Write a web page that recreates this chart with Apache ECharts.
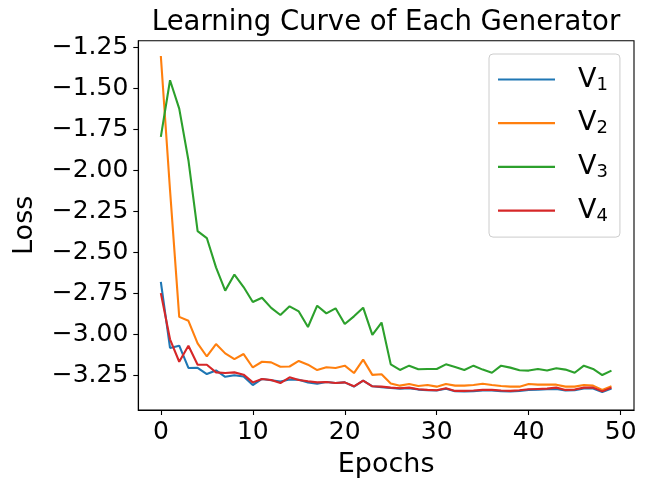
<!DOCTYPE html>
<html lang="en">
<head>
    <meta charset="UTF-8">
    <title>Learning Curve of Each Generator</title>
    <script type="text/javascript" src="https://cdn.jsdelivr.net/npm/echarts@6/dist/echarts.min.js"></script>
    <style>
        html, body { margin: 0; padding: 0; background: #fff; }
        #chart { width: 648px; height: 491px; }
    </style>
</head>
<body>
<div id="chart"></div>

<script type="text/javascript">
    // values, one per epoch (0..49)
    var epochs = [];
    for (var i = 0; i < 50; i++) epochs.push(i);

    var v1 = [-2.679, -3.083, -3.069, -3.205, -3.204, -3.242, -3.220, -3.259, -3.250, -3.257,
              -3.309, -3.272, -3.280, -3.288, -3.276, -3.277, -3.293, -3.301, -3.291, -3.297,
              -3.293, -3.319, -3.282, -3.317, -3.322, -3.327, -3.331, -3.328, -3.337, -3.341,
              -3.343, -3.332, -3.347, -3.348, -3.347, -3.343, -3.342, -3.347, -3.349, -3.345,
              -3.339, -3.337, -3.334, -3.333, -3.343, -3.341, -3.330, -3.330, -3.352, -3.330];
    var v2 = [-1.301, -2.120, -2.893, -2.917, -3.055, -3.135, -3.059, -3.116, -3.151, -3.120,
              -3.202, -3.167, -3.171, -3.198, -3.196, -3.162, -3.185, -3.218, -3.201, -3.205,
              -3.191, -3.236, -3.154, -3.247, -3.243, -3.300, -3.313, -3.303, -3.315, -3.309,
              -3.319, -3.303, -3.313, -3.313, -3.309, -3.301, -3.309, -3.315, -3.319, -3.319,
              -3.303, -3.307, -3.307, -3.307, -3.319, -3.319, -3.309, -3.313, -3.339, -3.317];
    var v3 = [-1.795, -1.449, -1.622, -1.937, -2.370, -2.412, -2.591, -2.733, -2.635, -2.711,
              -2.802, -2.776, -2.838, -2.882, -2.829, -2.860, -2.955, -2.825, -2.872, -2.841,
              -2.937, -2.890, -2.837, -3.003, -2.928, -3.183, -3.217, -3.191, -3.213, -3.211,
              -3.211, -3.183, -3.199, -3.217, -3.191, -3.215, -3.234, -3.191, -3.203, -3.219,
              -3.221, -3.211, -3.221, -3.207, -3.215, -3.234, -3.191, -3.211, -3.248, -3.221];
    var v4 = [-2.748, -3.030, -3.167, -3.069, -3.185, -3.185, -3.232, -3.236, -3.232, -3.246,
              -3.293, -3.272, -3.278, -3.297, -3.262, -3.278, -3.286, -3.293, -3.291, -3.297,
              -3.293, -3.317, -3.282, -3.317, -3.319, -3.325, -3.329, -3.325, -3.335, -3.339,
              -3.341, -3.329, -3.345, -3.345, -3.343, -3.339, -3.339, -3.343, -3.345, -3.341,
              -3.335, -3.333, -3.331, -3.325, -3.339, -3.337, -3.325, -3.325, -3.348, -3.325];

    var seriesNames = ['V1', 'V2', 'V3', 'V4'];
    var seriesValues = [v1, v2, v3, v4];
    var colors = ['#1f77b4', '#ff7f0e', '#2ca02c', '#d62728'];

    var xTicks = [0, 10, 20, 30, 40, 50];
    var yTicks = [-3.25, -3.0, -2.75, -2.5, -2.25, -2.0, -1.75, -1.5, -1.25];

    var font = 'DejaVu Sans';

    function pairs(vals) {
        return epochs.map(function (e, k) { return [e, vals[k]]; });
    }

    var series = seriesNames.map(function (name, k) {
        return {
            name: name,
            type: 'line',
            data: pairs(seriesValues[k]),
            symbol: 'none',
            color: colors[k],
            lineStyle: { width: 2.1, color: colors[k] }
        };
    });

    var myChart = echarts.init(document.getElementById('chart'));
    myChart.setOption({
        animation: false,
        title: {
            text: 'Learning Curve of Each Generator',
            left: 386,
            top: 9,
            textAlign: 'center',
            padding: 0,
            textStyle: { fontFamily: font, fontSize: 27.5, fontWeight: 'normal', color: '#000' }
        },
        grid: {
            left: 138.3, right: 14, top: 40.7, bottom: 81,
            show: true, borderColor: '#000', borderWidth: 1.1
        },
        legend: {
            orient: 'vertical',
            left: 489,
            top: 54,
            padding: [11, 12, 12, 9],
            itemGap: 14.7,
            icon: 'rect',
            itemWidth: 57,
            itemHeight: 2.2,
            backgroundColor: 'rgba(255,255,255,0.8)',
            borderColor: '#cccccc',
            borderWidth: 1,
            borderRadius: 4,
            formatter: function (name) {
                return '{v|V}{s|' + name.slice(1) + '}';
            },
            textStyle: {
                padding: [0, 0, 0, 18],
                rich: {
                    v: { fontFamily: font, fontSize: 27, lineHeight: 29, color: '#000' },
                    s: { fontFamily: font, fontSize: 18, lineHeight: 29, verticalAlign: 'top', padding: [11, 0, 0, 0], color: '#000' }
                }
            },
            data: seriesNames
        },
        xAxis: {
            type: 'value',
            min: -2.45,
            max: 51.45,
            name: 'Epochs',
            nameLocation: 'middle',
            nameGap: 41,
            nameTextStyle: { fontFamily: font, fontSize: 27, color: '#000' },
            splitLine: { show: false },
            axisLine: { show: true, onZero: false, lineStyle: { color: '#000', width: 1.1 } },
            axisTick: { show: true, inside: false, length: 5, customValues: xTicks, lineStyle: { color: '#000', width: 1.1 } },
            axisLabel: {
                customValues: xTicks, margin: 10,
                fontFamily: font, fontSize: 25, color: '#000',
                formatter: function (v) { return String(v); }
            }
        },
        yAxis: {
            type: 'value',
            min: -3.4616,
            max: -1.2075,
            name: 'Loss',
            nameLocation: 'middle',
            nameGap: 100,
            nameTextStyle: { fontFamily: font, fontSize: 27, color: '#000' },
            splitLine: { show: false },
            axisLine: { show: true, onZero: false, lineStyle: { color: '#000', width: 1.1 } },
            axisTick: { show: true, inside: false, length: 5, customValues: yTicks, lineStyle: { color: '#000', width: 1.1 } },
            axisLabel: {
                customValues: yTicks, margin: 10,
                fontFamily: font, fontSize: 25, color: '#000',
                formatter: function (v) { return (v < 0 ? '\u2212' : '') + Math.abs(v).toFixed(2); }
            }
        },
        series: series
    });
</script>

</body>
</html>
